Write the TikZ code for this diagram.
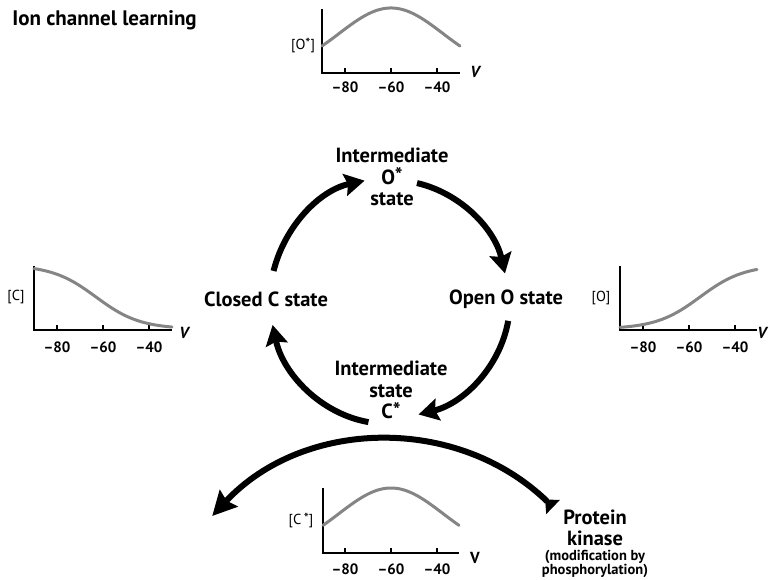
\documentclass[tikz,border=0pt]{standalone}
\usepackage{fontspec}
\setmainfont{PT Sans}
\usetikzlibrary{arrows.meta,calc,positioning}

\begin{document}
\begin{tikzpicture}[x=1pt,y=1pt,semithick]

		% Styles
		\tikzstyle{state label}=[font=\fontsize{20.5}{21.5}\selectfont\bfseries,align=center,inner sep=1pt]
		\tikzstyle{small label}=[font=\fontsize{14.5}{13.5}\selectfont\bfseries,align=center,inner sep=1pt]
		\tikzstyle{tick label}=[font=\fontsize{15}{16}\selectfont\bfseries,inner sep=0pt]
		\tikzstyle{conc label}=[font=\fontsize{14.5}{16}\selectfont,inner sep=0pt]
		\tikzstyle{volt label}=[font=\fontsize{16}{17}\selectfont\bfseries,inner sep=0pt]
		\tikzstyle{axis}=[line width=1.5pt,black]
		\tikzstyle{curve}=[line width=3pt,black!48,line cap=round]
		\tikzstyle{cycle arrow}=[line width=6pt,-{Stealth[length=20pt,width=22pt,inset=3pt]}]

		\useasboundingbox (0,0) rectangle (770,580);

		% Title
		\node[font=\fontsize{21}{23}\selectfont\bfseries,anchor=west,inner sep=0pt] (title) at (12,560) {Ion channel learning};

		% Plot of O*
		\begin{scope}[shift={(322,507)}]
			\draw[axis] (0,64) -- (0,0) -- (138,0);
			\foreach \t/\v in {23/80,69/60,115/40}{
				\draw[axis] (\t,0) -- (\t,5);
				\node[tick label] (ostar\v) at (\t,-14) {\textendash\v};
			}
			\node[conc label] (ostary) at (-19,28) {[O\raisebox{1pt}{*}]};
			\node[volt label] (ostarv) at (154,1) {\textit{V}};
			\draw[curve] plot[domain=0:138,samples=60] (\x,{65*exp(-((\x-69)^2)/5408)});
		\end{scope}

		% Plot of C
		\begin{scope}[shift={(34,250)}]
			\draw[axis] (0,64) -- (0,0) -- (138,0);
			\foreach \t/\v in {23/80,69/60,115/40}{
				\draw[axis] (\t,0) -- (\t,5);
				\node[tick label] (c\v) at (\t,-17) {\textendash\v};
			}
			\node[conc label] (cy) at (-18,33) {[C]};
			\node[volt label] (cv) at (151,-3) {\textit{V}};
			\draw[curve] plot[domain=0:138,samples=60] (\x,{1+64/(1+exp((\x-62)/22))});
		\end{scope}

		% Plot of O
		\begin{scope}[shift={(620,250)}]
			\draw[axis] (0,64) -- (0,0) -- (137,0);
			\foreach \t/\v in {23/80,69/60,115/40}{
				\draw[axis] (\t,0) -- (\t,5);
				\node[tick label] (o\v) at (\t,-17) {\textendash\v};
			}
			\node[conc label] (oy) at (-19,32) {[O]};
			\node[volt label] (ov) at (143,-3) {\textit{V}};
			\draw[curve] plot[domain=0:137,samples=60] (\x,{1+64/(1+exp(-(\x-80)/22))});
		\end{scope}

		% Plot of C*
		\begin{scope}[shift={(323,27)}]
			\draw[axis] (0,65) -- (0,0) -- (136,0);
			\foreach \t/\v in {22/80,68/60,114/40}{
				\draw[axis] (\t,0) -- (\t,5);
				\node[tick label] (cstar\v) at (\t,-16) {\textendash\v};
			}
			\node[conc label] (cstary) at (-22,33) {[C\,\raisebox{1pt}{*}]};
			\node[volt label] (cstarv) at (152,-5) {V};
			\draw[curve] plot[domain=0:136,samples=60] (\x,{65*exp(-((\x-68)^2)/5408)});
		\end{scope}

		% States of the channel
		\coordinate (cyc) at (390,280);
		\node[state label] (ostar) at (392,403) {Intermediate\\O\raisebox{1.5pt}{*}\\state};
		\node[state label] (closed) at (266,281) {Closed C state};
		\node[state label] (open) at (506,281) {Open O state};
		\node[state label] (cstar) at (391,190) {Intermediate\\state\\C\raisebox{1.5pt}{*}};
		\node[state label] (kinase) at (595,52) {Protein\\kinase};
		\node[small label] (modif) [below=1pt of kinase] {(modification by\\phosphorylation)};

		% Ends of the arcs
		\coordinate (p1) at ($(cyc)+(166:120)$);
		\coordinate (p2) at ($(cyc)+(102:122)$);
		\coordinate (p3) at ($(cyc)+(77:120)$);
		\coordinate (p4) at ($(cyc)+(13:118)$);
		\coordinate (p5) at ($(cyc)+(-10:120)$);
		\coordinate (p6) at ($(cyc)+(-76:118)$);
		\coordinate (p7) at ($(cyc)+(-100:124)$);
		\coordinate (p8) at ($(cyc)+(-168:120)$);
		\coordinate (k1) at ($(387,-99)+(46:239)$);
		\coordinate (k2) at ($(387,-99)+(137:239)$);

		% Transitions
		\draw[cycle arrow] (p1) to[out=76,in=192,looseness=0.92] (p2);
		\draw[cycle arrow] (p3) to[out=-13,in=103,looseness=0.92] (p4);
		\draw[cycle arrow] (p5) to[out=-100,in=14,looseness=0.92] (p6);
		\draw[cycle arrow] (p7) to[out=170,in=-78,looseness=0.92] (p8);

		% Phosphorylation
		\draw[line width=6pt,{Triangle[reversed,length=11pt,width=19pt]}-{Stealth[length=24pt,width=24pt,inset=3pt]}]
			(k1) to[out=136,in=47] (k2);

\end{tikzpicture}
\end{document}
